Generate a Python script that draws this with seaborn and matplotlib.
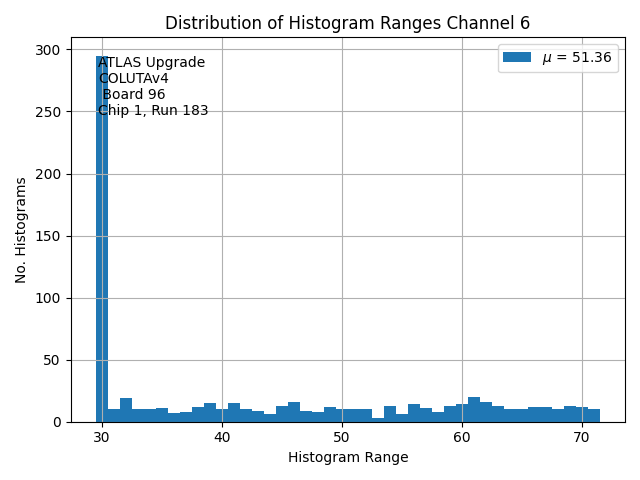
import numpy as np
import pandas as pd
import matplotlib
matplotlib.use('Agg')
import matplotlib.pyplot as plt
import seaborn as sns

# histogram ranges (bin centres) and how many histograms fell in each
ranges = list(range(30, 72))
counts = [295, 10, 19, 10, 10, 11, 7, 8, 12, 15,
          10, 15, 10, 9, 6, 13, 16, 9, 8, 12,
          10, 10, 10, 3, 13, 6, 14, 11, 8, 13,
          14, 20, 16, 13, 10, 10, 12, 12, 10, 13,
          12, 10]
mu_label = r'$\mu$ = 51.36'
info_text = 'ATLAS Upgrade\nCOLUTAv4\n Board 96\nChip 1, Run 183'

df = pd.DataFrame({'range': ranges, 'count': counts})

fig, ax = plt.subplots(1, 1, figsize=(6.4, 4.8), dpi=100)

edges = list(np.arange(ranges[0] - 0.5, ranges[-1] + 1.5, 1))
sns.histplot(data=df, x='range', weights='count', bins=edges, ax=ax,
             color='#1f77b4', alpha=1, linewidth=0, label=mu_label)

ax.text(ranges[0] - 0.3, max(counts), info_text, va='top', ha='left', fontsize=10)

ax.grid(True)
ax.set_title('Distribution of Histogram Ranges Channel 6')
ax.set_xlabel('Histogram Range')
ax.set_ylabel('No. Histograms')
ax.legend(loc='upper right')

fig.tight_layout()
fig.savefig('out.png')
